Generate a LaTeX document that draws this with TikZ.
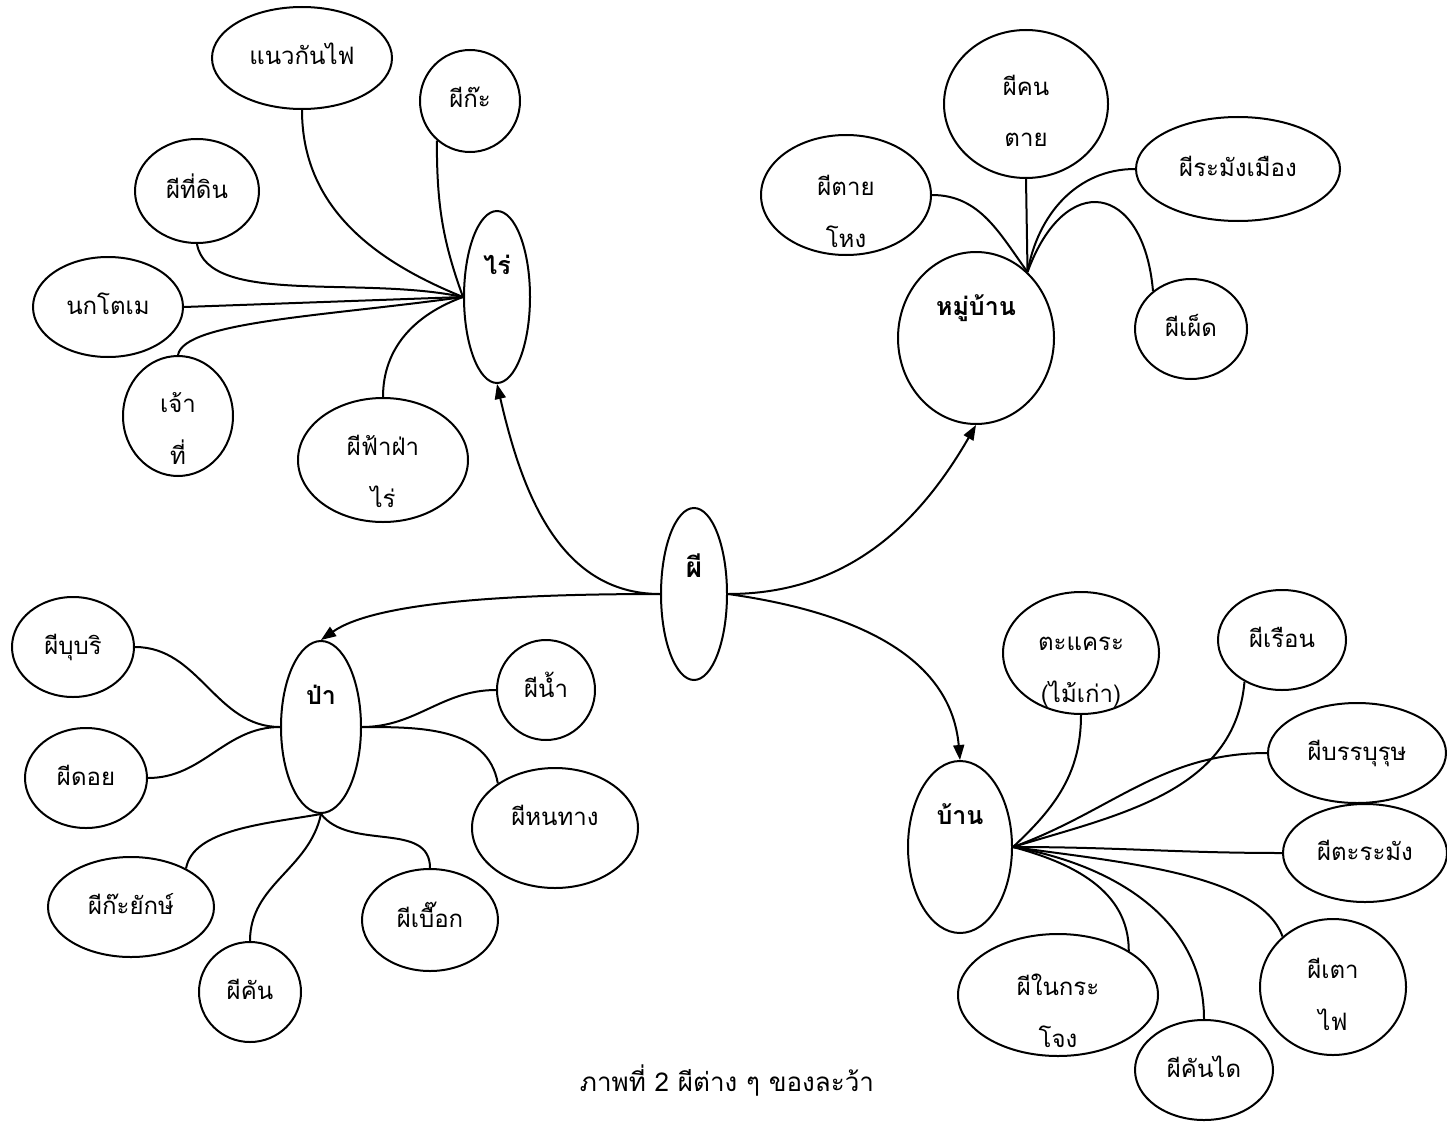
\documentclass[tikz,border=0pt]{standalone}
\usepackage{fontspec}
\newfontfamily\thaifont[Script=Thai]{Loma}
\usetikzlibrary{shapes.geometric,arrows.meta}

% two lines of text, set from a baseline moved by #1
\newcommand\stacked[3]{\raisebox{#1}[0pt][0pt]{\vbox{\halign{\hfil##\hfil\cr#2\cr#3\cr}}}}

\tikzset{
  oval/.style 2 args={draw, ellipse, line width=2pt, inner sep=0pt,
    minimum width=#1pt, minimum height=#2pt, text height=14pt, text depth=0pt},
  lift/.style={text height=0pt, text depth=#1},
  twoline/.style={text height={}, text depth={}},
  hubtext/.style={font=\thaifont\bfseries\fontsize{25}{30}\selectfont},
  link/.style={line width=2pt},
  spreadto/.style={line width=2pt, -{Triangle[length=15pt,width=11pt]}},
}

\begin{document}
\begin{tikzpicture}[x=1pt, y=-1pt, font=\thaifont\fontsize{24}{52}\selectfont]
\useasboundingbox (0,0) rectangle (1447,1121);

% Centre
\node[oval={66}{172}, lift=34pt, font=\thaifont\bfseries\fontsize{28}{30}\selectfont] (phi) at (694,594) {ผี};

% Field
\node[oval={66}{172}, lift=46pt, hubtext] (rai) at (497,297) {ไร่};
\node[oval={180}{102}] (kanfai) at (302,58) {แนวกันไฟ};
\node[oval={100}{102}] (phika) at (470,101) {ผีก๊ะ};
\node[oval={124}{104}] (thidin) at (197,191) {ผีที่ดิน};
\node[oval={150}{100}] (nokto) at (108,307) {นกโตเม};
\node[oval={110}{120}, twoline] (chaothi) at (178,416) {\stacked{-48pt}{เจ้า}{ที่}};
\node[oval={170}{124}, twoline] (fafa) at (383,460) {\stacked{-47pt}{ผีฟ้าฝ่า}{ไร่}};

\draw[link] (kanfai.south) to[out=-90, in=158] (rai.west);
\draw[link] (phika.230) to[out=-90, in=110] (rai.west);
\draw[link] (thidin.south) to[out=-80, in=168, out looseness=0.6] (rai.west);
\draw[link] (nokto.east) -- (rai.west);
\draw[link] (chaothi.north) to[out=80, in=188, out looseness=0.3, in looseness=1.2] (rai.west);
\draw[link] (fafa.north) to[out=90, in=200] (rai.west);

% Village
\node[oval={156}{172}, lift=46pt, hubtext] (mb) at (976,338) {หมู่บ้าน};
\node[oval={164}{148}, twoline] (khon) at (1026,104) {\stacked{-43pt}{ผีคน}{ตาย}};
\node[oval={170}{120}, twoline] (tailhong) at (846,195) {\stacked{-52pt}{ผีตาย}{โหง}};
\node[oval={204}{104}] (rabang) at (1238,169) {ผีระมังเมือง};
\node[oval={112}{100}] (phet) at (1191,329) {ผีเผ็ด};

\draw[link] (khon.south) -- (mb.52);
\draw[link] (tailhong.east) to[out=0, in=126] (mb.52);
\draw[link] (rabang.west) to[out=180, in=80] (mb.52);
\draw[link] (mb.52) to[out=70, in=95, looseness=2.2] (phet.135);

% Forest
\node[oval={80}{172}, lift=46pt, hubtext] (pa) at (321,727) {ป่า};
\node[oval={122}{100}] (bubri) at (73,647) {ผีบุบริ};
\node[oval={122}{100}] (doi) at (86,778) {ผีดอย};
\node[oval={166}{100}] (kayak) at (131,907) {ผีก๊ะยักษ์};
\node[oval={102}{100}] (phikhan) at (250,992) {ผีคัน};
\node[oval={136}{102}] (buak) at (430,920) {ผีเบื๊อก};
\node[oval={98}{100}] (nam) at (546,690) {ผีน้ำ};
\node[oval={166}{120}, lift=6pt] (hontang) at (555,828) {ผีหนทาง};

\draw[link] (bubri.east) to[out=0, in=180] (pa.west);
\draw[link] (doi.east) to[out=0, in=180] (pa.west);
\draw[link] (kayak.35) to[out=80, in=190, out looseness=0.7] (pa.south);
\draw[link] (phikhan.north) to[out=90, in=-102] (pa.south);
\draw[link] (buak.north) to[out=90, in=-52] (pa.south);
\draw[link] (nam.west) to[out=180, in=0] (pa.east);
\draw[link] (pa.east) to[out=0, in=100] (hontang.142);

% House
\node[oval={104}{172}, lift=46pt, hubtext] (bn) at (960,847) {บ้าน};
\node[oval={156}{122}, twoline] (takhrae) at (1081,653) {\stacked{-49pt}{ตะแคระ}{(ไม้เก่า)}};
\node[oval={128}{100}] (ruean) at (1282,640) {ผีเรือน};
\node[oval={178}{100}] (banp) at (1357,753) {ผีบรรบุรุษ};
\node[oval={164}{98}] (taramang) at (1365,853) {ผีตะระมัง};
\node[oval={146}{136}, twoline] (taofai) at (1333,987) {\stacked{-43pt}{ผีเตา}{ไฟ}};
\node[oval={138}{100}] (khondai) at (1204,1070) {ผีคันได};
\node[oval={200}{122}, twoline] (krachong) at (1058,995) {\stacked{-52pt}{ผีในกระ}{โจง}};

\draw[link] (takhrae.south) to[out=-90, in=43] (bn.east);
\draw[link] (ruean.228) to[out=-95, in=17] (bn.east);
\draw[link] (banp.west) to[out=180, in=20] (bn.east);
\draw[link] (taramang.west) to[out=180, in=0] (bn.east);
\draw[link] (bn.east) to[out=-8, in=110, in looseness=0.6] (taofai.135);
\draw[link] (bn.east) to[out=-10, in=90] (khondai.north);
\draw[link] (bn.east) to[out=-15, in=90] (krachong.32);

% Arrows out of the centre
\draw[spreadto] (phi.west) to[out=180, in=-77] (rai.south);
\draw[spreadto] (phi.west) to[out=180, in=35, out looseness=1.1, in looseness=0.5] (pa.north);
\draw[spreadto] (phi.east) to[out=0, in=-120] (mb.south);
\draw[spreadto] (phi.east) to[out=-8, in=95] (bn.north);

% Caption
\node[font=\thaifont\fontsize{26}{30}\selectfont] (caption) at (727,1080) {ภาพที่ 2 ผีต่าง ๆ ของละว้า};
\end{tikzpicture}
\end{document}
